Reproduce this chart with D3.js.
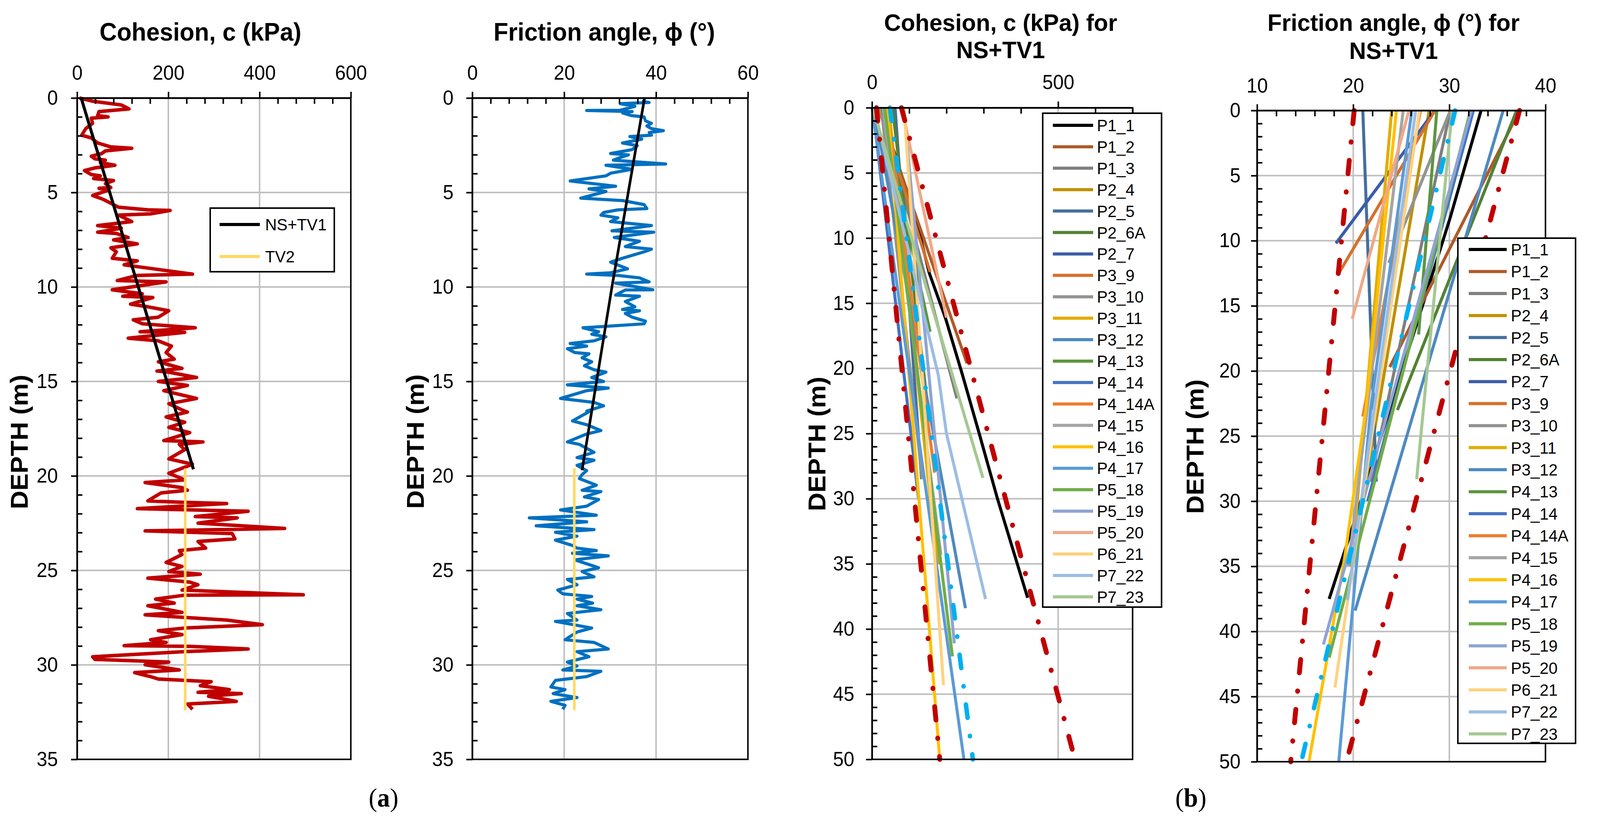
<!DOCTYPE html>
<html><head><meta charset="utf-8">
<script src="https://cdn.jsdelivr.net/npm/d3@7"></script>
<style>html,body{margin:0;padding:0;background:#fff;overflow:hidden;width:100%;height:100%} svg{display:block;width:100vw;height:100vh} text{font-family:"Liberation Sans",Arial,sans-serif}</style>
</head><body><svg id="c" viewBox="0 0 4255 2108" preserveAspectRatio="none"></svg>
<script>
// ---------------- DATA ----------------
// (a) left: cohesion profile
const profileDepthC = [0,0.17,0.37,0.58,0.72,0.93,1.0,1.07,1.34,1.62,1.97,2.11,2.38,2.59,2.66,2.8,2.94,3.08,3.22,3.29,3.42,3.56,3.7,3.84,4.05,4.12,4.26,4.37,4.53,4.74,4.78,4.88,5.16,5.36,5.78,5.92,5.95,6.13,6.2,6.54,6.75,6.89,7.1,7.17,7.38,7.51,7.72,7.93,8.14,8.48,8.62,8.83,9.32,9.39,9.66,9.73,10.15,10.36,10.49,10.56,10.91,11.05,11.26,11.6,11.74,11.95,12.16,12.37,12.4,12.71,12.85,13.13,13.47,13.82,13.96,14.31,14.45,14.51,14.79,15.0,15.21,15.49,15.9,16.18,16.57,16.62,16.88,17.16,17.43,17.71,18.13,18.2,18.33,18.61,19.1,19.38,19.86,20.21,20.35,20.62,20.76,20.9,21.32,21.39,21.46,21.73,21.87,22.15,22.22,22.5,22.78,22.91,23.05,23.33,23.47,23.82,23.95,24.16,24.58,24.79,25.06,25.2,25.41,25.62,25.76,26.04,26.29,26.31,26.52,26.73,26.87,27.22,27.35,27.49,27.63,27.87,28.05,28.19,28.4,28.67,28.81,28.98,29.02,29.16,29.3,29.57,29.71,29.85,29.99,30.27,30.41,30.62,30.75,30.89,31.1,31.31,31.45,31.52,31.66,31.93,32.07,32.35];
const profileC = [5,34,97,114,48,45,68,31,34,19,10,31,45,74,120,62,54,31,39,62,51,83,39,16,31,51,36,80,62,74,48,68,34,57,91,155,204,161,91,120,45,97,45,86,112,80,132,74,86,77,132,103,253,132,88,195,77,143,100,166,117,155,201,178,123,143,259,138,236,112,178,207,195,213,178,230,175,201,262,178,242,190,262,201,236,242,195,236,201,247,190,276,224,236,201,253,201,236,149,230,242,184,155,224,328,132,375,259,351,265,455,149,340,346,265,282,224,230,195,230,201,270,155,247,265,230,496,236,172,213,155,230,149,236,328,406,236,178,230,161,195,103,247,375,236,34,39,201,149,224,126,161,178,294,270,334,265,360,288,349,242,253];
const trendDepthC = [0, 19.65];
const trendC = [9, 255];
const tv2DepthC = [19.6, 32.4];
const tv2C = [237, 237];

// (a) right: friction angle profile
const profileDepthPhi = [0.17,0.24,0.30,0.44,0.65,0.66,0.72,0.79,0.93,1.00,1.21,1.34,1.48,1.62,1.73,1.83,1.97,2.04,2.18,2.38,2.52,2.73,2.80,2.94,3.01,3.15,3.29,3.49,3.56,3.77,3.98,4.12,4.39,4.67,4.81,4.95,5.30,5.43,5.64,5.85,5.92,6.06,6.20,6.34,6.54,6.75,7.03,7.10,7.38,7.58,7.86,8.00,8.14,8.48,8.69,9.04,9.25,9.32,9.39,9.52,9.73,9.80,10.15,10.16,10.43,10.49,10.77,11.05,11.19,11.26,11.40,11.60,11.81,11.95,12.09,12.16,12.37,12.50,12.64,12.85,12.99,13.13,13.27,13.47,13.54,13.75,13.96,14.17,14.38,14.51,14.79,15.00,15.18,15.35,15.49,15.90,16.11,16.29,16.57,16.60,17.09,17.29,17.60,17.78,18.20,18.33,18.75,19.03,19.17,19.44,19.72,19.93,20.14,20.49,20.76,20.83,21.11,21.25,21.60,21.80,22.08,22.22,22.43,22.64,22.84,22.98,23.19,23.40,23.68,23.82,23.95,24.09,24.23,24.44,24.86,25.06,25.34,25.48,25.76,26.04,26.24,26.38,26.52,26.73,26.87,27.08,27.28,27.63,27.70,28.05,28.26,28.67,28.81,29.16,29.30,29.57,29.85,30.06,30.27,30.34,30.62,30.82,31.17,31.31,31.52,31.73,31.93,32.14,32.35];
const profilePhi = [36.9,38.5,32.2,35.4,32.2,24.9,34.8,32.7,34.6,37.4,37.7,39.0,38.0,39.0,41.6,38.5,39.0,34.3,36.9,32.7,35.9,34.8,33.3,30.1,34.0,32.2,30.7,42.1,29.1,34.8,30.1,29.1,21.3,31.2,25.4,29.1,23.6,32.7,37.4,38.0,31.7,28.6,28.0,31.7,30.1,39.0,30.4,39.5,30.9,36.4,33.3,39.0,37.4,32.7,30.1,33.8,30.1,24.9,31.7,36.4,38.5,31.2,39.3,33.3,31.2,36.4,33.3,35.4,32.7,36.4,33.3,34.8,37.7,37.4,28.6,24.1,27.5,26.0,29.1,26.5,21.3,24.9,20.7,22.3,25.4,23.9,26.0,24.4,26.5,29.1,26.0,28.6,20.7,29.6,24.9,19.2,26.5,28.6,24.9,25.4,21.8,24.9,28.0,24.9,20.7,23.3,26.5,22.8,26.5,22.8,24.9,23.9,23.3,27.0,23.9,28.0,24.4,27.5,24.9,19.2,27.0,12.4,24.9,13.9,26.5,18.1,22.8,18.1,21.8,22.8,27.0,21.8,29.6,22.3,27.5,23.9,26.5,20.7,22.8,18.6,19.7,26.0,22.8,26.2,22.8,28.0,20.7,22.8,18.1,26.0,22.8,20.2,26.5,29.6,22.8,25.4,20.7,22.8,19.7,28.0,24.9,18.1,17.1,20.2,17.6,22.8,17.1,20.2,19.7];
const trendDepthPhi = [0, 10, 19.7];
const trendPhi = [37.5, 30.4, 23.9];
const tv2DepthPhi = [19.6, 32.4];
const tv2Phi = [22.2, 22.2];

// (b) per-pile trends
const pileNames = ["P1_1","P1_2","P1_3","P2_4","P2_5","P2_6A","P2_7","P3_9","P3_10","P3_11","P3_12","P4_13","P4_14","P4_14A","P4_15","P4_16","P4_17","P5_18","P5_19","P5_20","P6_21","P7_22","P7_23"];
const pileColors = ["#000000","#B05A28","#7F7F7F","#C09000","#44709C","#538135","#3A5DA8","#D6702C","#939393","#E2AC00","#4E8AC0","#5E9540","#4472C4","#ED7D31","#A5A5A5","#FFC000","#5B9BD5","#70AD47","#8FA4D2","#F0A888","#FFD27F","#9CBDE3","#A5C892"];
const pileCohDepth = [[0,1.2,8.9,12.7,16.2,20.5,25,30,37.6],[0,19.6],[0,22.3],[0,35],[0,28.5],[0,23],[0,10.2],[0,12.6],[0,28.5],[0,35],[0,38.4],[0,17.2],[0,30],[0,28],[0,34.3],[0,50],[0,50],[0,42.1],[0,41.1],[0,16.1],[0,44.3],[0,10,20.5,25,37.7],[0,28.4]];
const pileCoh = [[22,35,121,154,198,243,288,337,418],[17,255],[24,228],[40,182],[62,133],[55,150],[3,45],[18,156],[25,135],[45,175],[5,251],[27,156],[2,125],[40,168],[30,185],[42,182],[0,247],[34,216],[85,221],[80,200],[86,192],[5,90,178,200,305],[2,298]];
const pilePhiDepth = [[0,8.2,15,22,30,37.5],[0,19.7],[0,28.5],[0,35],[0,28.5],[0,23],[0,10.2],[0,12.5],[0,11.7],[0,32],[0,38.4],[0,17.2],[0,30],[0,23.5],[0,35],[0,23,34.4,50],[0,23,50],[0,42],[0,41],[0,16.0],[0,44.3],[0,37.6],[0,28.3]];
const pilePhi = [[33.3,30.1,27.2,24.2,20.8,17.5],[37.3,23.8],[30.1,21.8],[27.9,19.8],[21.0,22.4],[37.0,24.6],[28.5,18.2],[28.5,18.5],[30.1,23.7],[24.0,20.2],[35.6,20.2],[28.7,26.8],[32.5,21.5],[27.0,21.0],[25.2,19.5],[24.5,21.3,19.1,15.4],[26.1,21.8,18.5],[32.2,17.5],[32.3,16.9],[25.8,19.9],[26.9,18.1],[26.5,19.4],[30.3,26.6]];

// bound / mean lines (dash-dot)
const boundDepth = [0, 50];
const cohLower = [12, 182];
const cohUpper = [79, 545];
const cohMean = [48, 271];
const phiLower = [20.1, 13.5];
const phiUpper = [37.3, 19.3];
const phiMean = [30.6, 14.6];

// tick labels
const xTicksCa = [0,200,400,600];
const xTicksPhia = [0,20,40,60];
const yTicksA = [0,5,10,15,20,25,30,35];
const xTicksCb = [0,500];
const xTicksPhib = [10,20,30,40];
const yTicksB = [0,5,10,15,20,25,30,35,40,45,50];

// ---------------- DRAW ----------------
const svg = d3.select('#c');
svg.append('rect').attr('width',4255).attr('height',2108).attr('fill','#fff');
const FONT = '"Liberation Sans", Arial, sans-serif';

function makePanel(o){
  const x = d3.scaleLinear().domain(o.xDomain).range([o.left,o.right]);
  const y = d3.scaleLinear().domain(o.yDomain).range([o.top,o.bottom]);
  const g = svg.append('g');
  const xg = o.xGrid, yg = o.yTicks.filter(v=>v>o.yDomain[0]&&v<o.yDomain[1]);
  g.selectAll(null).data(xg).enter().append('line')
    .attr('x1',d=>x(d)).attr('x2',d=>x(d)).attr('y1',o.top).attr('y2',o.bottom)
    .attr('stroke','#BFBFBF').attr('stroke-width',4);
  g.selectAll(null).data(yg).enter().append('line')
    .attr('y1',d=>y(d)).attr('y2',d=>y(d)).attr('x1',o.left).attr('x2',o.right)
    .attr('stroke','#BFBFBF').attr('stroke-width',4);
  const lines = svg.append('g');
  const over = svg.append('g');
  over.append('rect').attr('x',o.left).attr('y',o.top).attr('width',o.right-o.left).attr('height',o.bottom-o.top)
    .attr('fill','none').attr('stroke','#000').attr('stroke-width',4);
  const styleAxis = sel => {
    sel.selectAll('line').attr('stroke','#000').attr('stroke-width',4);
    sel.selectAll('path').attr('stroke','#000').attr('stroke-width',4);
    sel.selectAll('text').attr('fill','#000').style('font-size','51px').style('font-family',FONT);
  };
  const fmt = d3.format('d');
  over.append('g').attr('transform',`translate(0,${o.top})`)
    .call(d3.axisTop(x).tickValues(o.xTicks).tickSize(16).tickSizeOuter(0).tickPadding(o.xPad).tickFormat(fmt)).call(styleAxis);
  over.append('g').attr('transform',`translate(0,${o.top})`)
    .call(d3.axisTop(x).tickValues(o.xMinor).tickSize(-15).tickFormat('')).call(styleAxis)
    .select('.domain').remove();
  over.append('g').attr('transform',`translate(${o.left},0)`)
    .call(d3.axisLeft(y).tickValues(o.yTicks).tickSize(16).tickSizeOuter(0).tickPadding(o.yPad).tickFormat(fmt)).call(styleAxis);
  over.append('g').attr('transform',`translate(${o.left},0)`)
    .call(d3.axisLeft(y).tickValues(o.yMinor).tickSize(-14).tickFormat('')).call(styleAxis)
    .select('.domain').remove();
  o.title.forEach((t,i)=>{
    svg.append('text').attr('x',o.titleX).attr('y',o.titleY + i*o.titleGap).attr('text-anchor','middle')
      .style('font-family',FONT).style('font-weight','bold').style('font-size',o.titleSize+'px').text(t);
  });
  svg.append('text').attr('transform',`translate(${o.ylabX},${o.ylabY}) rotate(-90)`).attr('text-anchor','middle')
    .style('font-family',FONT).style('font-weight','bold').style('font-size','66px').text('DEPTH (m)');
  return {x,y,lines,over};
}
function minorRange(a,b,step,majors){
  return d3.range(a,b+step/2,step).map(v=>+v.toFixed(6)).filter(v=>!majors.includes(v));
}
function drawLine(p, depth, vals, color, width, dash){
  const ln = d3.line().x(d=>p.x(d[1])).y(d=>p.y(d[0]));
  const path = p.lines.append('path').datum(d3.zip(depth,vals)).attr('d',ln)
    .attr('fill','none').attr('stroke',color).attr('stroke-width',width)
    .attr('stroke-linejoin','round');
  if(dash){ path.attr('stroke-dasharray',dash).attr('stroke-linecap','round'); }
  return path;
}
function legend(p, x0, y0, w, h, first, gap, sx0, sx1, tx, names, colors, sw){
  const lg = p.over.append('g');
  lg.append('rect').attr('x',x0).attr('y',y0).attr('width',w).attr('height',h)
    .attr('fill','#fff').attr('stroke','#000').attr('stroke-width',4);
  names.forEach((n,i)=>{
    const yy = first + i*gap;
    lg.append('line').attr('x1',sx0).attr('x2',sx1).attr('y1',yy).attr('y2',yy)
      .attr('stroke',colors[i]).attr('stroke-width',sw);
    lg.append('text').attr('x',tx).attr('y',yy).attr('dy','0.35em')
      .style('font-family',FONT).style('font-size','43px').text(n);
  });
}

// Panel 1
const p1 = makePanel({left:205,right:933,top:251,bottom:1945,xDomain:[0,600],yDomain:[0,35],
  xTicks:xTicksCa,xGrid:[200,400],xMinor:minorRange(0,600,40,xTicksCa),yTicks:yTicksA,yMinor:minorRange(0,35,1,yTicksA),
  xPad:31,yPad:35,title:['Cohesion, c (kPa)'],titleX:533,titleY:104,titleGap:0,titleSize:64,ylabX:74,ylabY:1132});
drawLine(p1, profileDepthC, profileC, '#C00000', 9);
drawLine(p1, trendDepthC, trendC, '#000000', 8);
drawLine(p1, tv2DepthC, tv2C, '#FFD966', 7);
legend(p1, 559, 533, 330, 163, 575, 82, 584, 691, 705, ['NS+TV1','TV2'], ['#000000','#FFD966'], 8);

// Panel 2
const p2 = makePanel({left:1256,right:1989,top:251,bottom:1945,xDomain:[0,60],yDomain:[0,35],
  xTicks:xTicksPhia,xGrid:[20,40],xMinor:minorRange(0,60,4,xTicksPhia),yTicks:yTicksA,yMinor:minorRange(0,35,1,yTicksA),
  xPad:31,yPad:34,title:['Friction angle, ϕ (°)'],titleX:1607,titleY:104,titleGap:0,titleSize:64,ylabX:1127,ylabY:1131});
drawLine(p2, profileDepthPhi, profilePhi, '#0070C0', 8);
drawLine(p2, trendDepthPhi, trendPhi, '#000000', 7);
drawLine(p2, tv2DepthPhi, tv2Phi, '#FFD966', 7);

const DASH = '34,47,0.5,47';
// Panel 3
const p3 = makePanel({left:2319,right:3012,top:276,bottom:1945,xDomain:[0,700],yDomain:[0,50],
  xTicks:xTicksCb,xGrid:[500],xMinor:minorRange(0,700,100,xTicksCb),yTicks:yTicksB,yMinor:minorRange(0,50,1,yTicksB),
  xPad:32,yPad:31,title:['Cohesion, c (kPa) for','NS+TV1'],titleX:2661,titleY:79,titleGap:70,titleSize:62,ylabX:2195,ylabY:1137});
pileNames.forEach((n,i)=>drawLine(p3, pileCohDepth[i], pileCoh[i], pileColors[i], 8));
drawLine(p3, boundDepth, cohLower, '#C00000', 13, DASH);
drawLine(p3, boundDepth, cohUpper, '#C00000', 13, DASH);
drawLine(p3, boundDepth, cohMean, '#00B0F0', 12, DASH);
legend(p3, 2773, 290, 316, 1265, 321, 54.9, 2800, 2907, 2917, pileNames, pileColors, 8);

// Panel 4
const p4 = makePanel({left:3343,right:4110,top:283,bottom:1951,xDomain:[10,40],yDomain:[0,50],
  xTicks:xTicksPhib,xGrid:[20,30],xMinor:minorRange(10,40,2,xTicksPhib),yTicks:yTicksB,yMinor:minorRange(0,50,1,yTicksB),
  xPad:30,yPad:28,title:['Friction angle, ϕ (°) for','NS+TV1'],titleX:3706,titleY:79,titleGap:72,titleSize:62,ylabX:3201,ylabY:1144});
pileNames.forEach((n,i)=>drawLine(p4, pilePhiDepth[i], pilePhi[i], pileColors[i], 8));
drawLine(p4, boundDepth, phiLower, '#C00000', 13, DASH);
drawLine(p4, boundDepth, phiUpper, '#C00000', 13, DASH);
drawLine(p4, boundDepth, phiMean, '#00B0F0', 12, DASH);
legend(p4, 3877, 610, 313, 1294, 639, 56.4, 3906, 4007, 4018, pileNames, pileColors, 8);

// sub-figure labels
[['a',1020],['b',3167]].forEach(([t,xx])=>{
  const tx = svg.append('text').attr('x',xx).attr('y',2066).attr('text-anchor','middle')
    .style('font-family','"Liberation Serif","Times New Roman",serif').style('font-size','68px');
  tx.append('tspan').text('(');
  tx.append('tspan').style('font-weight','bold').text(t);
  tx.append('tspan').text(')');
});
</script></body></html>
